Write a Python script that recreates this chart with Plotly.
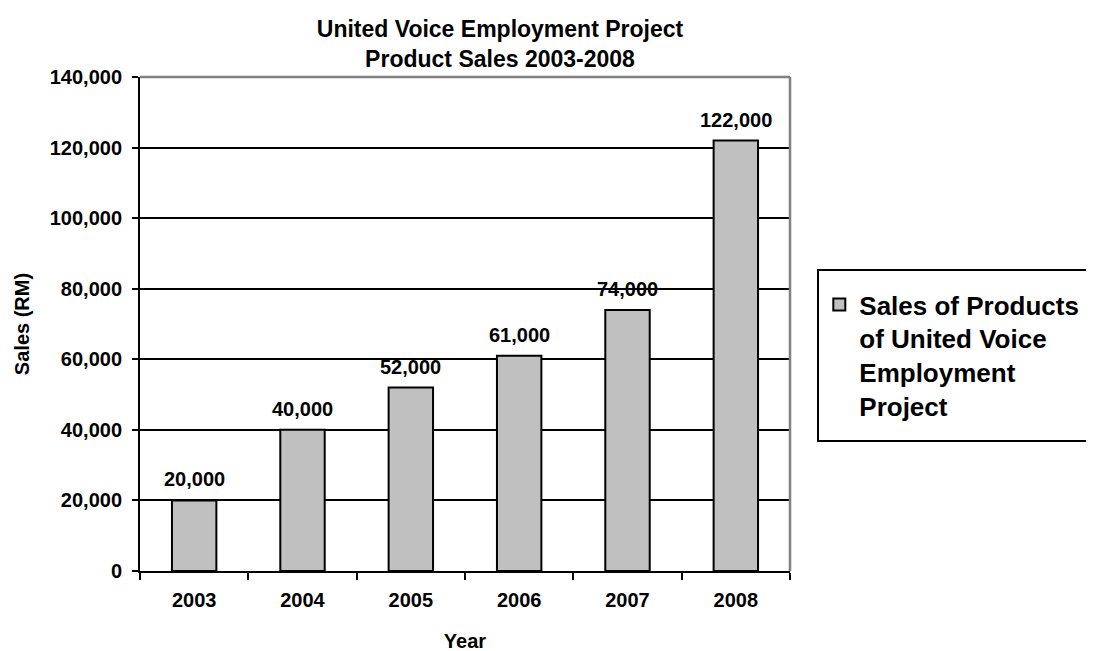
import plotly.graph_objects as go

years = ["2003", "2004", "2005", "2006", "2007", "2008"]
sales = [20000, 40000, 52000, 61000, 74000, 122000]
series_name = "Sales of Products<br>of United Voice<br>Employment<br>Project"
y_ticks = [0, 20000, 40000, 60000, 80000, 100000, 120000, 140000]
title_text = "United Voice Employment Project<br>Product Sales 2003-2008"

FONT = "Liberation Sans"
OFF = 8  # page body offset
# target plot area in page pixels
PL, PR, PT, PB = 140, 790, 77, 571
W, H = 1094, 651
PW, PH = PR - PL, PB - PT


def py(y):  # page y -> paper y
    return (PB - y) / PH


def px(x):  # page x -> paper x
    return (x - PL) / PW


def f(size):
    return dict(family=FONT, size=size, color="black", weight="bold")


fig = go.Figure()
fig.add_trace(go.Bar(
    x=years, y=sales, name=series_name,
    marker=dict(color="#C0C0C0", line=dict(color="black", width=2)),
    showlegend=True,
))

# value labels above bars, taken from the data arrays (category index on x)
label_annotations = [
    dict(x=i, y=v, xref="x", yref="y", text=f"{v:,}", showarrow=False,
         yanchor="bottom", xanchor="center", yshift=8, font=f(20))
    for i, v in enumerate(sales)
]

fig.update_layout(
    width=W, height=H,
    margin=dict(l=PL - OFF, r=W - (PR - OFF), t=PT - OFF, b=H - (PB - OFF), autoexpand=False),
    plot_bgcolor="white", paper_bgcolor="white",
    bargap=0.59,
    font=dict(family=FONT, color="black"),
    title=dict(text=title_text,
               x=(500 - OFF) / W, xanchor="center", xref="container",
               y=1 - (37 - OFF) / H, yanchor="middle", yref="container",
               font=f(23)),
    xaxis=dict(
        type="category", categoryorder="array", categoryarray=years,
        range=[-0.5, len(years) - 0.5],
        tickson="boundaries", ticks="outside", ticklen=7,
        tickwidth=2, tickcolor="black", showline=True, linecolor="black", linewidth=2,
        tickfont=f(20), ticklabelstandoff=10,
        title=dict(text="Year", font=f(20), standoff=24),
        showgrid=False,
    ),
    yaxis=dict(
        range=[0, 140000], tickvals=y_ticks, tickformat=",",
        ticks="outside", ticklen=6, tickwidth=2, tickcolor="black",
        showline=True, linecolor="black", linewidth=2,
        showgrid=True, gridcolor="black", gridwidth=2,
        zeroline=False, tickfont=f(20), ticklabelstandoff=6,
        title=dict(text="Sales (RM)", font=f(20), standoff=15),
    ),
    legend=dict(
        x=px(818) + 0.002, y=py(281), xanchor="left", yanchor="top",
        borderwidth=0, bgcolor="rgba(0,0,0,0)",
        font=f(26), valign="top",
    ),
    showlegend=True,
    annotations=label_annotations,
)

# gray frame on top and right of plot area
fig.add_shape(type="line", xref="paper", yref="paper", x0=0, x1=1, y0=1, y1=1,
              line=dict(color="#808080", width=2.5))
fig.add_shape(type="line", xref="paper", yref="paper", x0=1, x1=1, y0=0, y1=1,
              line=dict(color="#808080", width=2.5))
# legend frame
fig.add_shape(type="rect", xref="paper", yref="paper",
              x0=px(818), x1=px(1110), y0=py(441), y1=py(270),
              line=dict(color="black", width=2), fillcolor="rgba(0,0,0,0)", layer="above")

fig.write_html("out.html")
